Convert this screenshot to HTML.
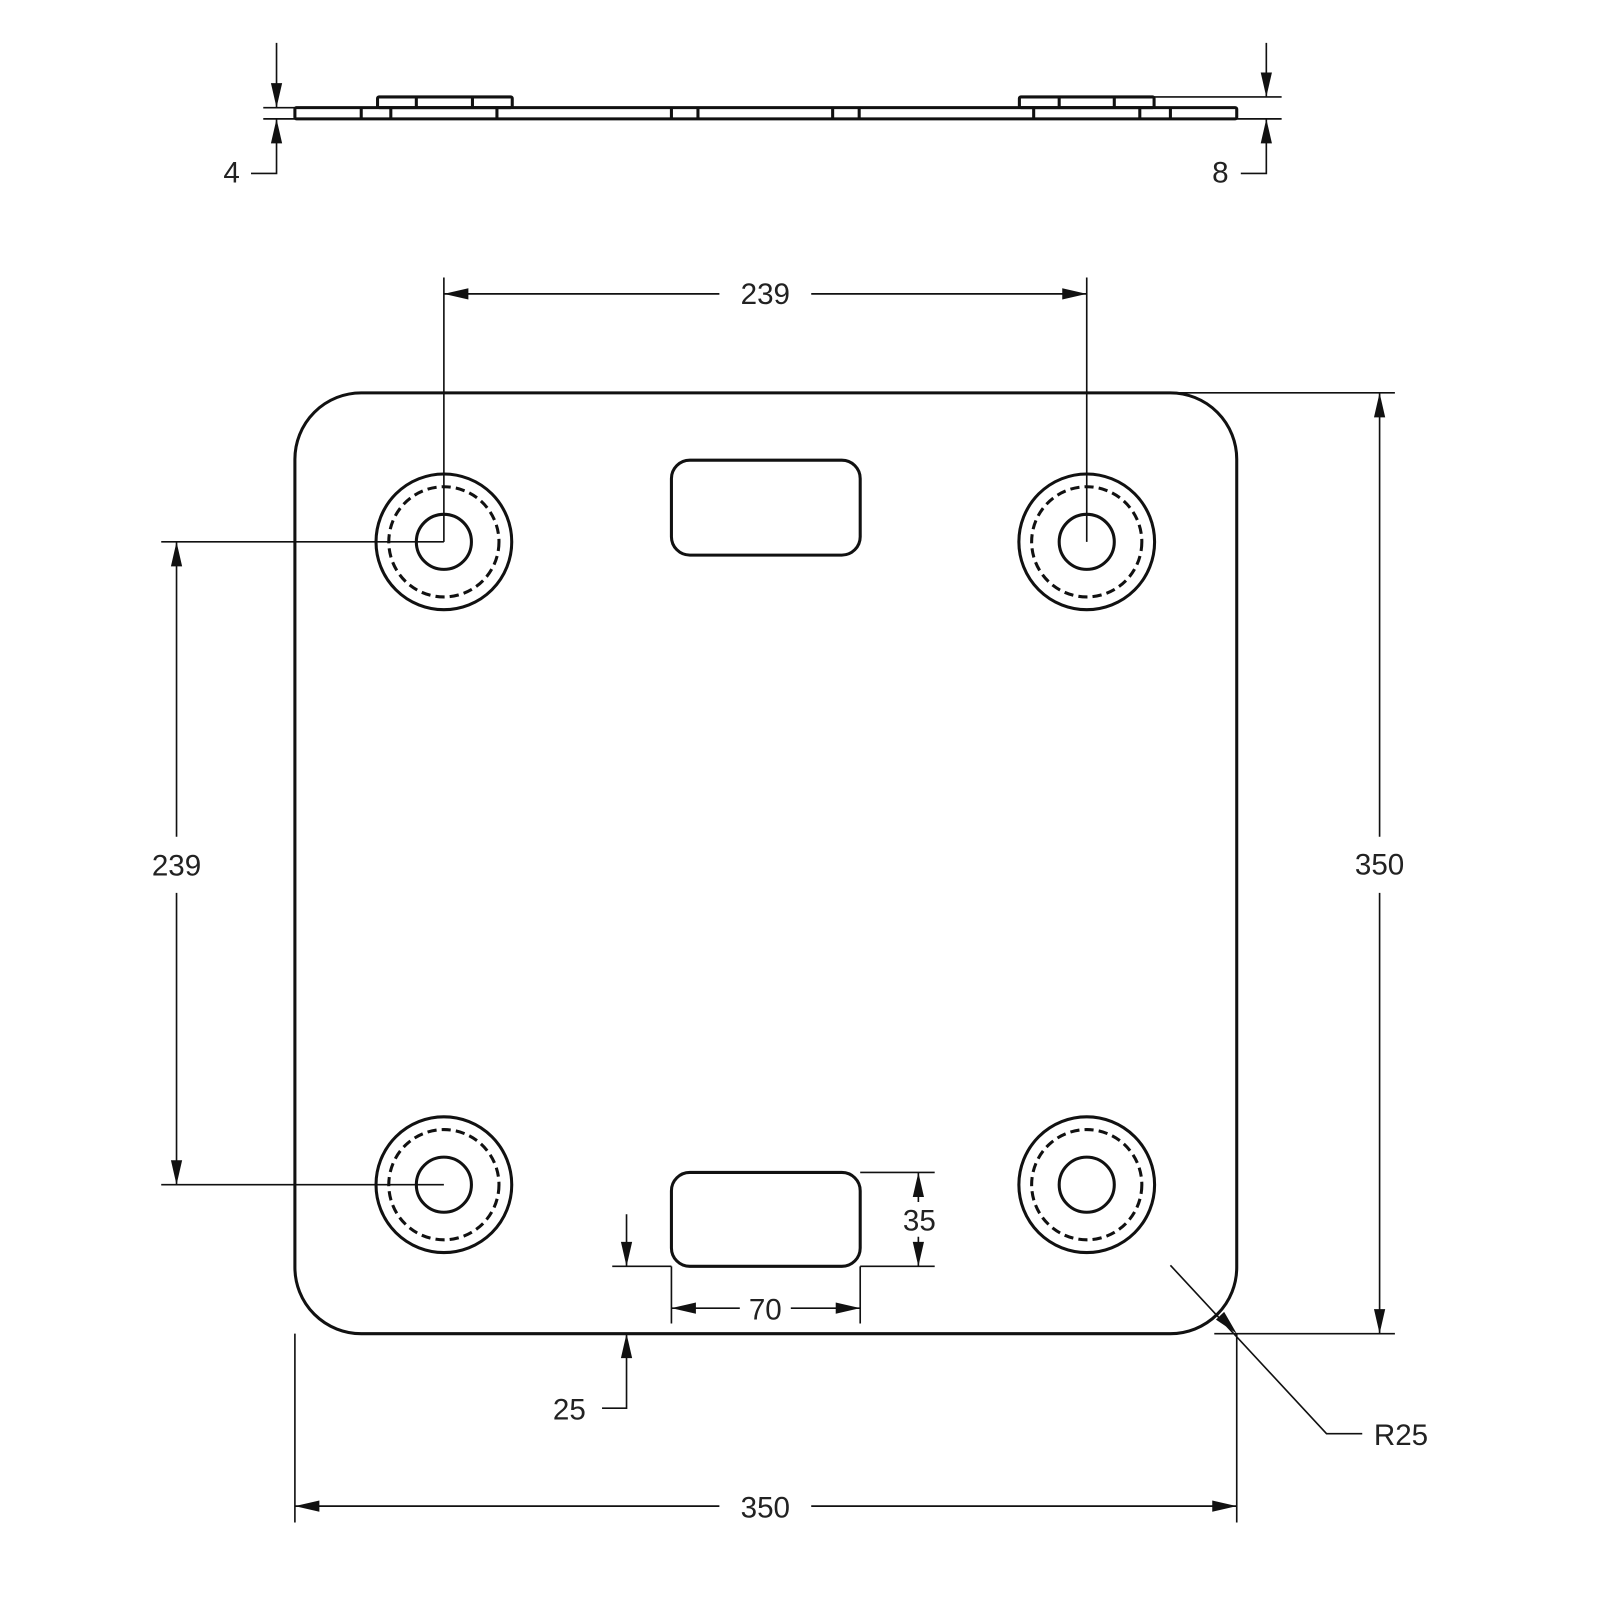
<!DOCTYPE html>
<html><head><meta charset="utf-8"><style>
html,body{margin:0;padding:0;background:#fff;}
svg{display:block;}
text{font-family:"Liberation Sans",Arial,sans-serif;font-size:29px;fill:#222;}
</style></head><body>
<svg width="1600" height="1600" viewBox="0 0 1568 1568" xmlns="http://www.w3.org/2000/svg">
<defs>
<g id="ar"><path d="M0 0 L-24 -5.5 L-24 5.5 Z" fill="#111"/></g>
</defs>
<g stroke="#111" fill="none">
<!-- side view -->
<g stroke-width="3">
<rect x="289" y="105.5" width="923" height="11" rx="1.5"/>
<rect x="370" y="95" width="132" height="10.5" rx="1.5"/>
<rect x="999" y="95" width="132" height="10.5" rx="1.5"/>
<path d="M354 105.5V116.5M383 105.5V116.5M487 105.5V116.5M658 105.5V116.5M684 105.5V116.5M816 105.5V116.5M842 105.5V116.5M1013 105.5V116.5M1117 105.5V116.5M1147 105.5V116.5"/>
<path d="M408 95V105.5M463 95V105.5M1038 95V105.5M1092 95V105.5"/>
</g>
<g stroke-width="1.6">
<path d="M258 105.5H289M258 116.5H289"/>
<path d="M271 42V105.5M271 116.5V170H246"/>
<path d="M1131 95H1256M1212 116.5H1256"/>
<path d="M1241 42V95M1241 116.5V170H1216"/>
</g>
<!-- main plate -->
<g stroke-width="3">
<rect x="289" y="385" width="923" height="922" rx="65"/>
<rect x="658" y="451" width="185" height="93" rx="18"/>
<rect x="658" y="1149" width="185" height="92" rx="18"/>
<circle cx="435" cy="531" r="66.5"/><circle cx="435" cy="531" r="27"/>
<circle cx="1065" cy="531" r="66.5"/><circle cx="1065" cy="531" r="27"/>
<circle cx="435" cy="1161" r="66.5"/><circle cx="435" cy="1161" r="27"/>
<circle cx="1065" cy="1161" r="66.5"/><circle cx="1065" cy="1161" r="27"/>
<g stroke-dasharray="9 5">
<circle cx="435" cy="531" r="54"/><circle cx="1065" cy="531" r="54"/>
<circle cx="435" cy="1161" r="54"/><circle cx="1065" cy="1161" r="54"/>
</g>
</g>
<g stroke-width="1.6">
<!-- top 239 -->
<path d="M435 272V531M1065 272V531M435 288H705M795 288H1065"/>
<!-- left 239 -->
<path d="M158 531H435M158 1161H435M173 531V820M173 875V1161"/>
<!-- right 350 -->
<path d="M1150 385H1367M1190 1307H1367M1352 385V820M1352 875V1307"/>
<!-- bottom 350 -->
<path d="M289 1307V1492M1212 1307V1492M289 1476H705M795 1476H1212"/>
<!-- 70 -->
<path d="M658 1241V1297M843 1241V1297M658 1282H725M775 1282H843"/>
<!-- 35 -->
<path d="M843 1149H916M843 1241H916M900 1149V1178M900 1212V1241"/>
<!-- 25 -->
<path d="M600 1241H658M614 1190V1241M614 1307V1380H590"/>
<!-- R25 -->
<path d="M1147 1240L1300 1405H1335"/>
</g>
</g>
<!-- arrowheads -->
<use href="#ar" transform="translate(271 105.5) rotate(90)"/>
<use href="#ar" transform="translate(271 116.5) rotate(-90)"/>
<use href="#ar" transform="translate(1241 95) rotate(90)"/>
<use href="#ar" transform="translate(1241 116.5) rotate(-90)"/>
<use href="#ar" transform="translate(435 288) rotate(180)"/>
<use href="#ar" transform="translate(1065 288)"/>
<use href="#ar" transform="translate(173 531) rotate(-90)"/>
<use href="#ar" transform="translate(173 1161) rotate(90)"/>
<use href="#ar" transform="translate(1352 385) rotate(-90)"/>
<use href="#ar" transform="translate(1352 1307) rotate(90)"/>
<use href="#ar" transform="translate(289 1476) rotate(180)"/>
<use href="#ar" transform="translate(1212 1476)"/>
<use href="#ar" transform="translate(658 1282) rotate(180)"/>
<use href="#ar" transform="translate(843 1282)"/>
<use href="#ar" transform="translate(900 1149) rotate(-90)"/>
<use href="#ar" transform="translate(900 1241) rotate(90)"/>
<use href="#ar" transform="translate(614 1241) rotate(90)"/>
<use href="#ar" transform="translate(614 1307) rotate(-90)"/>
<use href="#ar" transform="translate(1212 1307) rotate(47)"/>
<!-- labels -->
<text x="227" y="179" text-anchor="middle">4</text>
<text x="1196" y="179" text-anchor="middle">8</text>
<text x="750" y="298" text-anchor="middle">239</text>
<text x="173" y="858" text-anchor="middle">239</text>
<text x="1352" y="857" text-anchor="middle">350</text>
<text x="750" y="1487" text-anchor="middle">350</text>
<text x="750" y="1293" text-anchor="middle">70</text>
<text x="901" y="1206" text-anchor="middle">35</text>
<text x="558" y="1391" text-anchor="middle">25</text>
<text x="1373" y="1416" text-anchor="middle">R25</text>
</svg>
</body></html>
